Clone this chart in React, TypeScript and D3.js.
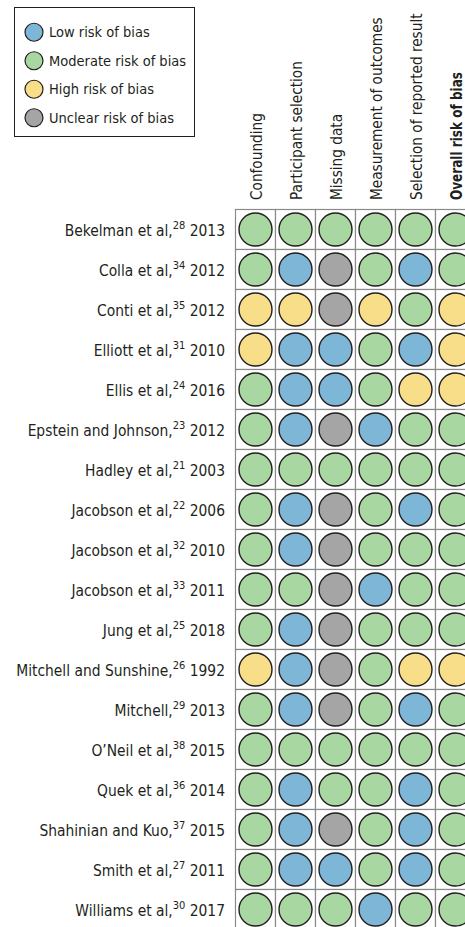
import React from 'react';
import * as d3 from 'd3';

const domains = [
  'Confounding',
  'Participant selection',
  'Missing data',
  'Measurement of outcomes',
  'Selection of reported result',
  'Overall risk of bias',
];

const authors = [
  'Bekelman et al,', 'Colla et al,', 'Conti et al,', 'Elliott et al,', 'Ellis et al,',
  'Epstein and Johnson,', 'Hadley et al,', 'Jacobson et al,', 'Jacobson et al,', 'Jacobson et al,',
  'Jung et al,', 'Mitchell and Sunshine,', 'Mitchell,', 'O\u2019Neil et al,', 'Quek et al,',
  'Shahinian and Kuo,', 'Smith et al,', 'Williams et al,',
];
const refs = [28, 34, 35, 31, 24, 23, 21, 22, 32, 33, 25, 26, 29, 38, 36, 37, 27, 30];
const years = [2013, 2012, 2012, 2010, 2016, 2012, 2003, 2006, 2010, 2011, 2018, 1992, 2013, 2015, 2014, 2015, 2011, 2017];

// L = low, M = moderate, H = high, U = unclear; one string per study, one letter per domain
const ratings = [
  'MMMMMM', 'MLUMLM', 'HHUHMH', 'HLLMLH', 'MLLMHH',
  'MLULMM', 'MMMMMM', 'MLUMLM', 'MLUMMM', 'MMULMM',
  'MLUMMM', 'HLUMHH', 'MLUMLM', 'MMMMMM', 'MLMMLM',
  'MLUMLM', 'MLLMLM', 'MMMLMM',
];

const levels = ['L', 'M', 'H', 'U'];
const levelLabels = ['Low risk of bias', 'Moderate risk of bias', 'High risk of bias', 'Unclear risk of bias'];
const levelColors = ['#7eb6d8', '#a9d7a1', '#f9de89', '#a5a5a5'];

const font = '"Liberation Sans Narrow", "DejaVu Sans Condensed", "Roboto", sans-serif';
const ink = '#231f20';

export default function App() {
  const W = 465, H = 927;
  const color = d3.scaleOrdinal<string, string>().domain(levels).range(levelColors);

  const x = d3.scaleBand<string>().domain(domains).range([235.5, 475.5]);
  const rowKeys = authors.map((a, i) => `${a}${years[i]}-${i}`);
  const y = d3.scaleBand<string>().domain(rowKeys).range([209.5, 929.5]);
  const r = 16.5;

  const legendY = d3.scaleBand<string>().domain(levels).range([18, 132]);

  return (
    <div style={{ position: 'absolute', left: 0, top: 0 }}>
      <svg width={W} height={H} style={{ display: 'block', fontFamily: font }}>
        <rect width={W} height={H} fill="#fff" />

        {/* legend */}
        <rect x={14.5} y={7.5} width={180} height={129} fill="#fff" stroke={ink} strokeWidth={1} />
        {levels.map((l, i) => {
          const cy = legendY(l)! + legendY.bandwidth() / 2;
          return (
            <g key={l}>
              <circle cx={34} cy={cy} r={9} fill={color(l)} stroke={ink} strokeWidth={1.2} />
              <text x={49} y={cy + 5} fontSize={14.5} fill={ink}>{levelLabels[i]}</text>
            </g>
          );
        })}

        {/* column headers, last one is bold (and narrower in the original) */}
        {domains.map((d, i) => {
          const cx = x(d)! + x.bandwidth() / 2;
          const last = i === domains.length - 1;
          return (
            <text
              key={d}
              transform={`translate(${cx + 6},200) rotate(-90)`}
              fontSize={15.2}
              fontWeight={last ? 'bold' : 'normal'}
              textLength={last ? 128 : undefined}
              lengthAdjust={last ? 'spacingAndGlyphs' : undefined}
              fill={ink}
            >
              {d}
            </text>
          );
        })}

        {/* grid cells */}
        {rowKeys.map((k, i) =>
          domains.map((d, j) => {
            const level = ratings[i][j];
            return (
              <g key={`${k}-${d}`}>
                <rect x={x(d)} y={y(k)} width={x.bandwidth()} height={y.bandwidth()} fill="#fff" stroke="#8a8a8a" strokeWidth={1.2} />
                <circle
                  cx={x(d)! + x.bandwidth() / 2}
                  cy={y(k)! + y.bandwidth() / 2}
                  r={r}
                  fill={color(level)}
                  stroke={ink}
                  strokeWidth={1.4}
                />
              </g>
            );
          })
        )}

        {/* study labels */}
        {rowKeys.map((k, i) => (
          <text key={k} x={225} y={y(k)! + y.bandwidth() / 2 + 6} textAnchor="end" fontSize={15.4} fill={ink}>
            {authors[i]}
            <tspan fontSize={11} dy={-6.5}>{refs[i]}</tspan>
            <tspan dy={6.5}>{' ' + years[i]}</tspan>
          </text>
        ))}
      </svg>
    </div>
  );
}
